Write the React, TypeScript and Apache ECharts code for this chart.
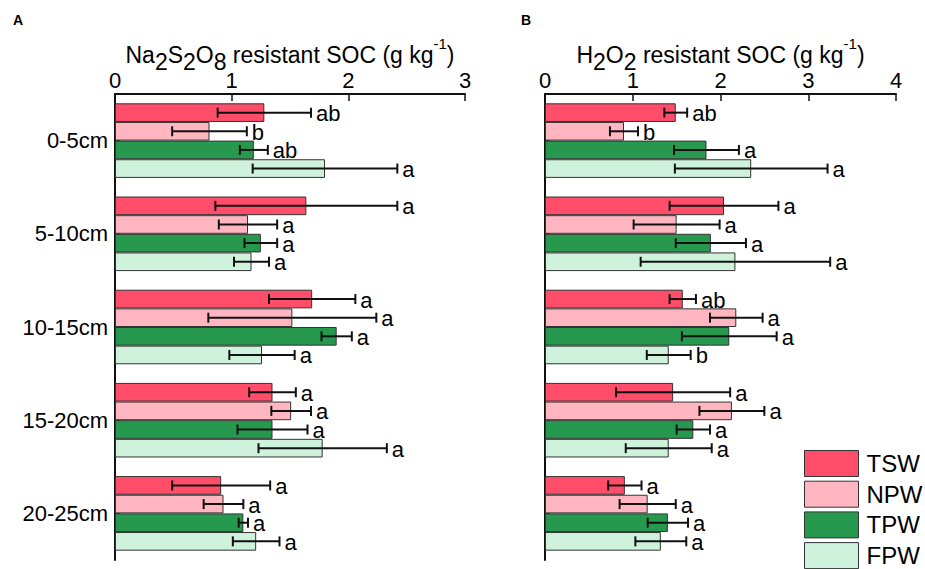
import React, { useEffect, useRef } from 'react';
import * as echarts from 'echarts';

const depths = ['0-5cm', '5-10cm', '10-15cm', '15-20cm', '20-25cm'];
const treatments = ['TSW', 'NPW', 'TPW', 'FPW'];
const colors = ['#FF4D6A', '#FFB6C1', '#27994F', '#CFF2DC'];
const xTicksA = [0, 1, 2, 3];
const xTicksB = [0, 1, 2, 3, 4];

// Panel A: Na2S2O8 resistant SOC
const naTSW = [1.28, 1.64, 1.69, 1.35, 0.91];
const naNPW = [0.81, 1.14, 1.52, 1.51, 0.93];
const naTPW = [1.19, 1.25, 1.90, 1.35, 1.10];
const naFPW = [1.80, 1.17, 1.26, 1.78, 1.21];
const naErrTSW = [0.40, 0.78, 0.37, 0.20, 0.42];
const naErrNPW = [0.32, 0.25, 0.72, 0.17, 0.17];
const naErrTPW = [0.12, 0.14, 0.13, 0.30, 0.04];
const naErrFPW = [0.62, 0.15, 0.28, 0.55, 0.20];
const naSigTSW = ['ab', 'a', 'a', 'a', 'a'];
const naSigNPW = ['b', 'a', 'a', 'a', 'a'];
const naSigTPW = ['ab', 'a', 'a', 'a', 'a'];
const naSigFPW = ['a', 'a', 'a', 'a', 'a'];

// Panel B: H2O2 resistant SOC
const hTSW = [1.49, 2.04, 1.57, 1.46, 0.91];
const hNPW = [0.90, 1.50, 2.18, 2.13, 1.17];
const hTPW = [1.84, 1.89, 2.10, 1.69, 1.40];
const hFPW = [2.35, 2.17, 1.41, 1.41, 1.32];
const hErrTSW = [0.13, 0.62, 0.15, 0.65, 0.19];
const hErrNPW = [0.16, 0.49, 0.30, 0.37, 0.32];
const hErrTPW = [0.37, 0.40, 0.54, 0.19, 0.23];
const hErrFPW = [0.87, 1.08, 0.25, 0.49, 0.29];
const hSigTSW = ['ab', 'a', 'ab', 'a', 'a'];
const hSigNPW = ['b', 'a', 'a', 'a', 'a'];
const hSigTPW = ['a', 'a', 'a', 'a', 'a'];
const hSigFPW = ['a', 'a', 'b', 'a', 'a'];

const FONT = '"Liberation Sans", Arial, Helvetica, sans-serif';

const panelA = {
  values: [naTSW, naNPW, naTPW, naFPW],
  errs: [naErrTSW, naErrNPW, naErrTPW, naErrFPW],
  sigs: [naSigTSW, naSigNPW, naSigTPW, naSigFPW],
};
const panelB = {
  values: [hTSW, hNPW, hTPW, hFPW],
  errs: [hErrTSW, hErrNPW, hErrTPW, hErrFPW],
  sigs: [hSigTSW, hSigNPW, hSigTPW, hSigFPW],
};

const richName = {
  n: { fontSize: 23, lineHeight: 26, padding: [7, 0, 0, 0], verticalAlign: 'top', fontFamily: FONT, color: '#000' },
  s: { fontSize: 23, lineHeight: 26, padding: [14, 0, 0, 0], verticalAlign: 'top', fontFamily: FONT, color: '#000' },
  p: { fontSize: 15, lineHeight: 16, padding: [0, 0, 0, 0], verticalAlign: 'top', fontFamily: FONT, color: '#000' },
};

function makeXAxis(idx: number, ticks: number[], name: string) {
  return {
    type: 'value',
    gridIndex: idx,
    position: 'top',
    min: ticks[0],
    max: ticks[ticks.length - 1],
    interval: 1,
    name,
    nameLocation: 'middle',
    nameGap: 32,
    nameMoveOverlap: false,
    nameTextStyle: { rich: richName },
    axisLine: { show: true, lineStyle: { color: '#111', width: 2 } },
    axisTick: { show: true, inside: true, length: 7, lineStyle: { color: '#111', width: 1.5 } },
    axisLabel: { show: true, fontSize: 22, color: '#000', fontFamily: FONT, margin: 3 },
    splitLine: { show: false },
  };
}

function makeYAxis(idx: number, showLabels: boolean) {
  return {
    type: 'category',
    gridIndex: idx,
    data: depths,
    inverse: true,
    axisLine: { show: true, lineStyle: { color: '#111', width: 2 } },
    axisTick: { show: true, inside: true, length: 5, alignWithLabel: true, lineStyle: { color: '#111', width: 1.5 } },
    axisLabel: { show: showLabels, fontSize: 22, color: '#000', fontFamily: FONT, margin: 7 },
    splitLine: { show: false },
  };
}

function barSeries(axisIdx: number, panel: any) {
  return treatments.map((t, i) => ({
    type: 'bar',
    name: t,
    xAxisIndex: axisIdx,
    yAxisIndex: axisIdx,
    data: panel.values[i],
    barGap: '0%',
    barCategoryGap: '20%',
    itemStyle: { color: colors[i], borderColor: '#333', borderWidth: 1 },
  }));
}

function errSeries(axisIdx: number, panel: any) {
  return treatments.map((t, si) => ({
    type: 'custom',
    name: t + '-err',
    xAxisIndex: axisIdx,
    yAxisIndex: axisIdx,
    z: 5,
    encode: { x: 0, y: 1 },
    data: panel.values[si].map((v: number, i: number) => [v, i, panel.errs[si][i]]),
    renderItem: (params: any, api: any) => {
      const v = api.value(0);
      const c = api.value(1);
      const e = api.value(2);
      const center = api.coord([v, c]);
      const band = api.size([0, 1])[1];
      const y = center[1] - 0.4 * band + (si + 0.5) * 0.2 * band;
      const x1 = api.coord([v - e, c])[0];
      const x2 = api.coord([v + e, c])[0];
      const st = { stroke: '#111', lineWidth: 2 };
      return {
        type: 'group',
        children: [
          { type: 'line', shape: { x1, y1: y, x2, y2: y }, style: st },
          { type: 'line', shape: { x1, y1: y - 5, x2: x1, y2: y + 5 }, style: st },
          { type: 'line', shape: { x1: x2, y1: y - 5, x2, y2: y + 5 }, style: st },
          {
            type: 'text',
            x: x2 + 5,
            y: y + 1,
            style: {
              text: panel.sigs[si][params.dataIndex],
              fill: '#000',
              fontSize: 22,
              fontFamily: FONT,
              verticalAlign: 'middle',
              align: 'left',
            },
          },
        ],
      };
    },
  }));
}

export default function App() {
  const ref = useRef<HTMLDivElement>(null);
  useEffect(() => {
    if (!ref.current) return;
    const chart = echarts.init(ref.current, null, { renderer: 'svg' });
    chart.setOption({
      animation: false,
      backgroundColor: '#fff',
      textStyle: { fontFamily: FONT },
      grid: [
        { left: 115, top: 94, width: 350, height: 466 },
        { left: 545, top: 94, width: 351, height: 466 },
      ],
      xAxis: [
        makeXAxis(0, xTicksA, '{n|Na}{s|2}{n|S}{s|2}{n|O}{s|8}{n| resistant SOC (g kg}{p|-1}{n|)}'),
        makeXAxis(1, xTicksB, '{n|H}{s|2}{n|O}{s|2}{n| resistant SOC (g kg}{p|-1}{n|)}'),
      ],
      yAxis: [makeYAxis(0, true), makeYAxis(1, false)],
      legend: {
        data: treatments,
        orient: 'vertical',
        left: 804,
        top: 450,
        height: 300,
        itemWidth: 54,
        itemHeight: 26,
        itemGap: 3.7,
        icon: 'rect',
        itemStyle: { borderColor: '#333', borderWidth: 1 },
        textStyle: { fontSize: 24, lineHeight: 26, color: '#000', fontFamily: FONT, padding: [0, 0, 0, 3] },
        selectedMode: false,
        padding: 0,
      },
      graphic: [
        { type: 'text', left: 13, top: 13, style: { text: 'A', fontSize: 14, fontWeight: 'bold', fill: '#000', fontFamily: FONT } },
        { type: 'text', left: 521, top: 13, style: { text: 'B', fontSize: 14, fontWeight: 'bold', fill: '#000', fontFamily: FONT } },
      ],
      series: [
        ...barSeries(0, panelA),
        ...barSeries(1, panelB),
        ...errSeries(0, panelA),
        ...errSeries(1, panelB),
      ],
    });
    return () => chart.dispose();
  }, []);
  return <div ref={ref} style={{ position: 'absolute', left: 0, top: 0, width: 925, height: 569 }} />;
}
